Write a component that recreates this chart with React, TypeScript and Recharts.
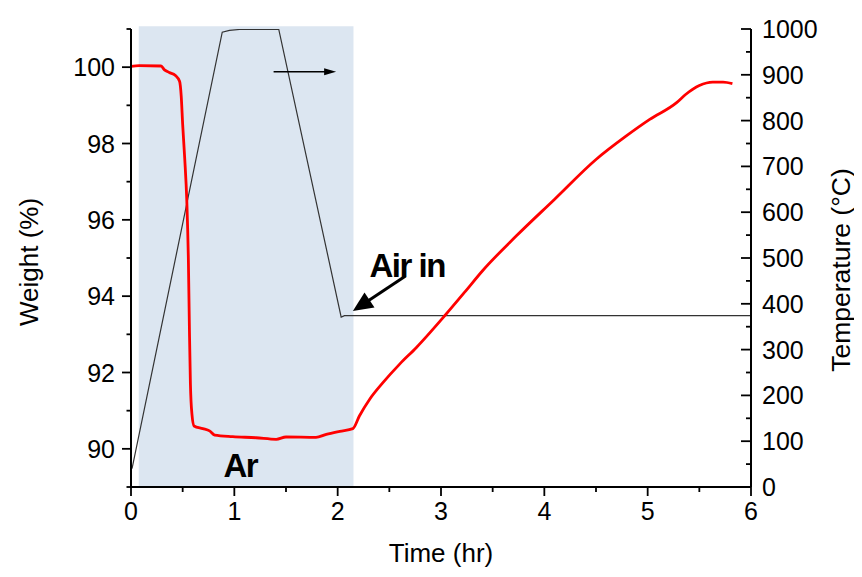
import React from 'react';
import {
  ComposedChart,
  Line,
  XAxis,
  YAxis,
  ReferenceArea,
  ReferenceLine,
  ReferenceDot,
  Label,
} from 'recharts';

// ---- Data ----
const weightTime = [
  0, 0.08, 0.29, 0.324, 0.37, 0.43, 0.47, 0.486, 0.5, 0.52, 0.54, 0.555, 0.565,
  0.575, 0.59, 0.61, 0.695, 0.76, 0.81, 0.985, 1.21, 1.405, 1.5, 1.79, 1.89,
  2.02, 2.147, 2.21, 2.31, 2.44, 2.6, 2.76, 3.04, 3.24, 3.4, 3.73, 4.1, 4.5,
  4.79, 5.02, 5.28, 5.37, 5.5, 5.63, 5.73, 5.82,
];
const weightPct = [
  100.02, 100.04, 100.03, 99.93, 99.86, 99.78, 99.63, 99.24, 98.5, 97.6, 96.5,
  95.0, 93.2, 91.7, 90.9, 90.6, 90.53, 90.47, 90.36, 90.32, 90.29, 90.25, 90.31,
  90.3, 90.38, 90.46, 90.53, 90.86, 91.3, 91.74, 92.22, 92.65, 93.5, 94.14,
  94.66, 95.58, 96.54, 97.58, 98.19, 98.63, 99.07, 99.29, 99.52, 99.61, 99.61,
  99.57,
];
const tempTime = [0.01, 0.883, 0.953, 1.05, 1.43, 2.034, 2.066, 6.0];
const tempC = [40, 993, 997, 999, 999, 371, 374, 374];

const xTicks = [0, 0.5, 1, 1.5, 2, 2.5, 3, 3.5, 4, 4.5, 5, 5.5, 6];
const weightTicks = [89, 90, 91, 92, 93, 94, 95, 96, 97, 98, 99, 100, 101];
const tempTicks = [
  0, 50, 100, 150, 200, 250, 300, 350, 400, 450, 500, 550, 600, 650, 700, 750,
  800, 850, 900, 950, 1000,
];

const weightData = weightTime.map((t, i) => ({ t, w: weightPct[i] }));
const tempData = tempTime.map((t, i) => ({ t, T: tempC[i] }));

const FONT = '"Liberation Sans", Arial, Helvetica, sans-serif';

function LeftTick(props: any) {
  const { x, y, payload } = props;
  const v = payload.value;
  const major = v % 2 === 0 && v >= 90 && v <= 100;
  return (
    <g>
      <line x1={x} y1={y} x2={x - (major ? 9 : 4.5)} y2={y} stroke="#000" strokeWidth={1.8} />
      {major && (
        <text x={x - 16} y={y + 9} textAnchor="end" fontSize={25} fontFamily={FONT} fill="#000">
          {v}
        </text>
      )}
    </g>
  );
}

function RightTick(props: any) {
  const { x, y, payload } = props;
  const v = payload.value;
  const major = v % 100 === 0;
  return (
    <g>
      <line x1={x} y1={y} x2={x - (major ? 10 : 5)} y2={y} stroke="#000" strokeWidth={1.8} />
      {major && (
        <text x={x + 11} y={y + 9} textAnchor="start" fontSize={25} fontFamily={FONT} fill="#000">
          {v}
        </text>
      )}
    </g>
  );
}

function BottomTick(props: any) {
  const { x, y, payload } = props;
  const v = payload.value;
  const major = Number.isInteger(v);
  return (
    <g>
      <line x1={x} y1={y} x2={x} y2={y + (major ? 9 : 5)} stroke="#000" strokeWidth={1.8} />
      {major && (
        <text x={x} y={y + 33} textAnchor="middle" fontSize={25} fontFamily={FONT} fill="#000">
          {v}
        </text>
      )}
    </g>
  );
}

function makeArrow(head: number, half: number, width: number) {
  return (p: any) => {
    const x1 = Number(p.x1), y1 = Number(p.y1), x2 = Number(p.x2), y2 = Number(p.y2);
    const dx = x2 - x1, dy = y2 - y1;
    const len = Math.hypot(dx, dy) || 1;
    const ux = dx / len, uy = dy / len;
    const bx = x2 - ux * head, by = y2 - uy * head;
    const px = -uy, py = ux;
    return (
      <g>
        <line x1={x1} y1={y1} x2={bx + ux * 1} y2={by + uy * 1} stroke="#000" strokeWidth={width} />
        <polygon
          points={`${x2},${y2} ${bx + px * half},${by + py * half} ${bx - px * half},${by - py * half}`}
          fill="#000"
        />
      </g>
    );
  };
}

function makeText(text: string, size: number) {
  return (p: any) => (
    <text
      x={p.cx}
      y={p.cy}
      textAnchor="start"
      fontSize={size}
      fontWeight="bold"
      fontFamily={FONT}
      letterSpacing={-1.5}
      fill="#000"
    >
      {text}
    </text>
  );
}

const leftTitle = (props: any) => {
  const vb = props.viewBox || { x: 0, y: 21, width: 123, height: 458 };
  const cx = vb.x + 21;
  const cy = vb.y + vb.height / 2 + 4;
  return (
    <text
      x={cx}
      y={cy}
      transform={`rotate(-90 ${cx} ${cy})`}
      textAnchor="middle"
      dominantBaseline="central"
      fontSize={26}
      fontFamily={FONT}
      fill="#000"
    >
      Weight (%)
    </text>
  );
};

const rightTitle = (props: any) => {
  const vb = props.viewBox || { x: 743, y: 21, width: 111, height: 458 };
  const cx = vb.x + 90;
  const cy = vb.y + vb.height / 2 + 12;
  return (
    <text
      x={cx}
      y={cy}
      transform={`rotate(-90 ${cx} ${cy})`}
      textAnchor="middle"
      dominantBaseline="central"
      fontSize={26.5}
      fontFamily={FONT}
      fill="#000"
    >
      Temperature (°C)
    </text>
  );
};

const bottomTitle = (props: any) => {
  const vb = props.viewBox || { x: 123, y: 479, width: 620, height: 82 };
  const cx = vb.x + vb.width / 2;
  const cy = vb.y + 66;
  return (
    <text x={cx} y={cy} textAnchor="middle" dominantBaseline="central" fontSize={26} fontFamily={FONT} fill="#000">
      Time (hr)
    </text>
  );
};

export default function App() {
  return (
    <div style={{ width: 854, height: 561, background: '#fff' }}>
      <ComposedChart width={854} height={561} margin={{ top: 21, right: 0, bottom: 0, left: 0 }}>
        <XAxis
          dataKey="t"
          type="number"
          domain={[0, 6]}
          ticks={xTicks}
          interval={0}
          height={82}
          tickSize={0}
          tickMargin={0}
          tickLine={false}
          axisLine={{ stroke: '#000', strokeWidth: 2 }}
          tick={<BottomTick />}
          allowDecimals
        >
          <Label content={bottomTitle} />
        </XAxis>
        <YAxis
          yAxisId="w"
          orientation="left"
          type="number"
          domain={[89, 101]}
          ticks={weightTicks}
          interval={0}
          width={123}
          tickSize={0}
          tickMargin={0}
          tickLine={false}
          axisLine={{ stroke: '#000', strokeWidth: 2 }}
          tick={<LeftTick />}
          allowDataOverflow
        >
          <Label content={leftTitle} />
        </YAxis>
        <YAxis
          yAxisId="T"
          orientation="right"
          type="number"
          domain={[0, 1000]}
          ticks={tempTicks}
          interval={0}
          width={111}
          tickSize={0}
          tickMargin={0}
          tickLine={false}
          axisLine={{ stroke: '#000', strokeWidth: 2 }}
          tick={<RightTick />}
          allowDataOverflow
        >
          <Label content={rightTitle} />
        </YAxis>

        <ReferenceArea
          yAxisId="w"
          x1={0.075}
          x2={2.153}
          y1={89}
          y2={101.07}
          ifOverflow="visible"
          fill="#dce6f1"
          fillOpacity={1}
          stroke="none"
        />

        <Line
          yAxisId="T"
          data={tempData}
          dataKey="T"
          type="linear"
          stroke="#333"
          strokeWidth={1.2}
          dot={false}
          activeDot={false}
          isAnimationActive={false}
        />
        <Line
          yAxisId="w"
          data={weightData}
          dataKey="w"
          type="monotone"
          stroke="#ff0000"
          strokeWidth={2.8}
          dot={false}
          activeDot={false}
          isAnimationActive={false}
        />

        <ReferenceLine
          yAxisId="w"
          segment={[{ x: 1.38, y: 99.88 }, { x: 1.985, y: 99.88 }]}
          shape={makeArrow(12, 3.5, 1.5)}
        />
        <ReferenceLine
          yAxisId="w"
          segment={[{ x: 2.657, y: 94.53 }, { x: 2.147, y: 93.61 }]}
          shape={makeArrow(20, 9, 3)}
        />
        <ReferenceDot yAxisId="w" x={2.308} y={94.495} r={0} shape={makeText('Air in', 33)} />
        <ReferenceDot yAxisId="w" x={0.895} y={89.26} r={0} shape={makeText('Ar', 33)} />
      </ComposedChart>
    </div>
  );
}
